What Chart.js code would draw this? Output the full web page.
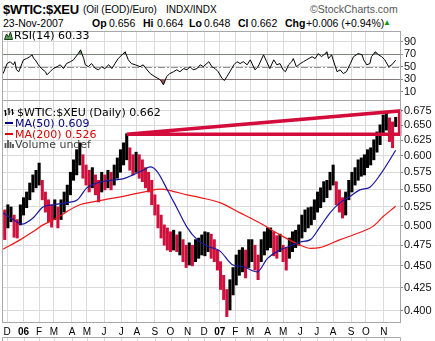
<!DOCTYPE html>
<html>
<head>
<meta charset="utf-8">
<title>$WTIC:$XEU</title>
<script src="https://cdn.jsdelivr.net/npm/chart.js@4.4.1/dist/chart.umd.min.js"></script>
<style>
  html, body { margin: 0; padding: 0; background: #fff; }
  #page { position: relative; width: 435px; height: 341px; overflow: hidden; background: #fff; }
  canvas { position: absolute; left: 0; }
  #rsiCanvas { top: 30px; }
  #priceCanvas { top: 99px; }
  .t { position: absolute; white-space: nowrap; line-height: 1; font-family: "Liberation Sans", Arial, sans-serif; color: #000; }
  .lg { position: absolute; white-space: nowrap; line-height: 1; font-family: "DejaVu Sans", sans-serif; font-size: 11px; color: #000; }
  .ic { position: absolute; }
</style>
</head>
<body>
<div id="page">
  <canvas id="rsiCanvas" width="435" height="71"></canvas>
  <canvas id="priceCanvas" width="435" height="242"></canvas>

  <div class="t" style="left:3px;top:3px;font-size:13px;font-weight:bold;letter-spacing:-0.3px">$WTIC:$XEU</div>
  <div class="t" style="left:83px;top:5px;font-size:10px">(Oil (EOD)/Euro)</div>
  <div class="t" style="left:166px;top:5px;font-size:10px">INDX/INDX</div>
  <div class="t" style="left:310px;top:4px;font-size:10.5px;color:#555">©StockCharts.com</div>

  <div class="t" style="left:3px;top:18px;font-size:10.5px">23-Nov-2007</div>
  <div class="t" style="left:92px;top:18px;font-size:10.5px;font-weight:bold">Op</div>
  <div class="t" style="left:109px;top:18px;font-size:10.5px">0.656</div>
  <div class="t" style="left:143px;top:18px;font-size:10.5px;font-weight:bold">Hi</div>
  <div class="t" style="left:157px;top:18px;font-size:10.5px">0.664</div>
  <div class="t" style="left:189px;top:18px;font-size:10.5px;font-weight:bold">Lo</div>
  <div class="t" style="left:204px;top:18px;font-size:10.5px">0.648</div>
  <div class="t" style="left:238px;top:18px;font-size:10.5px;font-weight:bold">Cl</div>
  <div class="t" style="left:251px;top:18px;font-size:10.5px">0.662</div>
  <div class="t" style="left:285px;top:18px;font-size:10.5px;font-weight:bold">Chg</div>
  <div class="t" style="left:306px;top:18px;font-size:10.5px">+0.006 (+0.94%)</div>
  <div class="t" style="left:383px;top:19px;font-size:8px;color:#00a000">▲</div>

  <!-- RSI legend -->
  <svg class="ic" style="left:4px;top:31px" width="9" height="9" viewBox="0 0 9 9">
    <polygon points="0.5,8.5 2.5,3 4.5,6 6.5,1 8.5,8.5" fill="#5aa05a" stroke="#1a3a1a" stroke-width="1"/>
  </svg>
  <div class="lg" style="left:14px;top:30px">RSI(14) 60.33</div>

  <!-- price panel legend -->
  <svg class="ic" style="left:4px;top:107px" width="10" height="10" viewBox="0 0 10 10">
    <path d="M1.5 3v6M0 4h1.5M1.5 7h1.5M5 1v7M3.5 2h1.5M5 5h1.5M8.5 2v6M7 3h1.5M8.5 6h1.5" stroke="#000" stroke-width="1.2" fill="none"/>
  </svg>
  <div class="lg" style="left:17px;top:107px">$WTIC:$XEU (Daily) 0.662</div>
  <svg class="ic" style="left:4px;top:118px" width="10" height="10"><rect x="1" y="4" width="8" height="2" fill="#000080"/></svg>
  <div class="lg" style="left:15px;top:118px;color:#000080">MA(50) 0.609</div>
  <svg class="ic" style="left:4px;top:129px" width="10" height="10"><rect x="1" y="4" width="8" height="2" fill="#e00000"/></svg>
  <div class="lg" style="left:15px;top:129px;color:#e00000">MA(200) 0.526</div>
  <svg class="ic" style="left:4px;top:139px" width="10" height="10" viewBox="0 0 10 10">
    <path d="M1.5 9V4M4 9V1M6.5 9V3M9 9V5" stroke="#555" stroke-width="1.8"/>
  </svg>
  <div class="lg" style="left:15px;top:139px;color:#404040">Volume undef</div>
</div>

<script>
// ---- month grid (session index, Dec 1 2005 = 0) ----
const monthDay = [0, 21, 41, 60, 83, 102, 124, 146, 166, 189, 209, 231, 252, 272, 292, 311, 333, 353, 375, 396, 417, 440, 459, 482];
const monthLbl = ['D', '06', 'F', 'M', 'A', 'M', 'J', 'J', 'A', 'S', 'O', 'N', 'D', '07', 'F', 'M', 'A', 'M', 'J', 'J', 'A', 'S', 'O', 'N'];

// ---- price bars, one every 4 sessions starting at session -7 ----
const barStart = -7;
const barStep = 4;
const barHi = [
  0.518, 0.521, 0.528, 0.525, 0.514, 0.508, 0.528, 0.538, 0.546, 0.559,
  0.571, 0.578, 0.589, 0.563, 0.546, 0.535, 0.528, 0.535, 0.525, 0.535,
  0.546, 0.556, 0.575, 0.594, 0.610, 0.621, 0.602, 0.586, 0.578, 0.582,
  0.571, 0.563, 0.575, 0.571, 0.578, 0.575, 0.586, 0.597, 0.610, 0.621,
  0.636, 0.613, 0.602, 0.606, 0.602, 0.594, 0.582, 0.575, 0.563, 0.542,
  0.528, 0.514, 0.501, 0.497, 0.492, 0.494, 0.488, 0.492, 0.482, 0.475,
  0.478, 0.475, 0.482, 0.484, 0.488, 0.492, 0.491, 0.489, 0.482, 0.469,
  0.455, 0.439, 0.423, 0.434, 0.448, 0.463, 0.469, 0.472, 0.469, 0.482,
  0.482, 0.475, 0.463, 0.482, 0.492, 0.497, 0.497, 0.492, 0.487, 0.489,
  0.475, 0.472, 0.484, 0.492, 0.494, 0.501, 0.514, 0.521, 0.524, 0.525,
  0.535, 0.546, 0.552, 0.561, 0.563, 0.575, 0.586, 0.561, 0.549, 0.538,
  0.546, 0.563, 0.575, 0.582, 0.594, 0.597, 0.602, 0.610, 0.613, 0.626,
  0.639, 0.651, 0.668, 0.673, 0.663, 0.656, 0.664
];
const barLo = [
  0.488, 0.482, 0.497, 0.505, 0.485, 0.484, 0.501, 0.514, 0.524, 0.535,
  0.546, 0.552, 0.556, 0.535, 0.518, 0.505, 0.498, 0.508, 0.497, 0.508,
  0.518, 0.528, 0.542, 0.563, 0.571, 0.586, 0.566, 0.556, 0.546, 0.552,
  0.542, 0.532, 0.546, 0.549, 0.552, 0.549, 0.556, 0.566, 0.575, 0.586,
  0.594, 0.578, 0.571, 0.575, 0.566, 0.561, 0.552, 0.546, 0.528, 0.514,
  0.497, 0.484, 0.475, 0.469, 0.467, 0.469, 0.467, 0.463, 0.455, 0.448,
  0.451, 0.450, 0.455, 0.459, 0.463, 0.462, 0.467, 0.459, 0.455, 0.445,
  0.423, 0.412, 0.394, 0.401, 0.417, 0.428, 0.439, 0.443, 0.436, 0.448,
  0.455, 0.445, 0.434, 0.455, 0.463, 0.469, 0.472, 0.462, 0.459, 0.467,
  0.455, 0.445, 0.459, 0.467, 0.472, 0.475, 0.484, 0.492, 0.497, 0.501,
  0.508, 0.518, 0.524, 0.532, 0.538, 0.549, 0.556, 0.528, 0.518, 0.510,
  0.514, 0.535, 0.546, 0.556, 0.563, 0.569, 0.571, 0.582, 0.586, 0.594,
  0.606, 0.618, 0.634, 0.642, 0.623, 0.613, 0.648
];

// ---- moving averages ----
const ma50Day = [-5, 8, 19, 33, 46, 59, 77, 90, 102, 115, 132, 148, 161, 174, 183, 192, 205, 217, 230, 243,
  256, 272, 289, 302, 320, 333, 349, 362, 375, 388, 400, 413, 426, 439, 451, 464, 477, 497];
const ma50Val = [0.517, 0.508, 0.502, 0.510, 0.525, 0.528, 0.531, 0.535, 0.552, 0.559, 0.563, 0.565, 0.571, 0.578, 0.583, 0.576, 0.549, 0.524, 0.498, 0.482,
  0.474, 0.468, 0.451, 0.449, 0.443, 0.459, 0.469, 0.474, 0.479, 0.482, 0.498, 0.517, 0.531, 0.540, 0.549, 0.553, 0.571, 0.609];
const ma200Day = [-5, 17, 33, 46, 64, 77, 93, 110, 128, 145, 161, 179, 196, 212, 230, 247, 272, 298, 324, 349,
  375, 388, 400, 426, 451, 468, 481, 490, 497];
const ma200Val = [0.470, 0.482, 0.492, 0.501, 0.510, 0.519, 0.528, 0.532, 0.536, 0.539, 0.543, 0.547, 0.550, 0.547, 0.542, 0.538, 0.531, 0.517, 0.503, 0.488,
  0.475, 0.471, 0.472, 0.482, 0.491, 0.499, 0.512, 0.520, 0.526];

// ---- drawn trend channel ----
const trendDay = [153, 502, 502, 153];
const trendVal = [0.635, 0.675, 0.635, 0.635];

// ---- RSI(14) ----
const rsiDay = [
  -5, 0, 4, 8, 10, 12, 15, 19, 21, 25, 29, 32, 34, 36, 40, 44, 49, 51, 55, 59,
  64, 68, 72, 76, 81, 85, 91, 94, 98, 100, 104, 108, 113, 117, 121, 125, 130, 134, 138, 142,
  147, 151, 155, 159, 164, 170, 174, 179, 183, 189, 196, 200, 204, 208, 213, 217, 221, 226, 230, 234,
  238, 243, 247, 251, 258, 262, 266, 270, 275, 278, 281, 285, 290, 294, 298, 302, 307, 311, 317, 321,
  328, 332, 336, 341, 345, 349, 353, 356, 360, 364, 366, 370, 375, 379, 383, 390, 394, 398, 402, 407,
  409, 411, 415, 417, 422, 426, 430, 434, 439, 443, 449, 454, 456, 460, 464, 466, 471, 475, 479, 483,
  488, 492, 497
];
const rsiVal = [
  39, 55, 58, 53, 58, 45, 42, 55, 61, 63, 66, 69, 63, 61, 53, 47, 42, 37, 42, 47,
  50, 53, 47, 55, 58, 61, 71, 77, 63, 53, 50, 55, 47, 45, 50, 47, 53, 47, 55, 63,
  69, 74, 61, 55, 53, 50, 53, 45, 39, 34, 29, 21, 34, 39, 42, 45, 42, 47, 45, 50,
  45, 47, 53, 50, 58, 50, 47, 42, 31, 28, 34, 42, 53, 58, 55, 58, 53, 61, 45, 50,
  69, 58, 47, 61, 53, 55, 45, 42, 53, 58, 63, 50, 55, 58, 61, 66, 63, 71, 66, 71,
  74, 63, 69, 61, 42, 45, 39, 42, 55, 66, 71, 69, 61, 53, 55, 66, 74, 69, 66, 61,
  50, 53, 60.33
];

// ---- axis ticks ----
const priceTicks = [0.400, 0.425, 0.450, 0.475, 0.500, 0.525, 0.550, 0.575, 0.600, 0.625, 0.650, 0.675];
const rsiTicks = [10, 30, 50, 70, 90];
const rsiBands = [30, 70];
const rsiMid = 50;

// ---- look ----
const GRID = '#dadada';
const FRAME = '#a8a8a8';
const UP = '#000000';
const DOWN = '#d0103c';
const AXIS_FONT = { family: '"Liberation Sans", Arial, sans-serif', size: 11 };

const X_MIN = -6.5, X_MAX = 502.5;

const pts = (days, vals) => days.map((d, i) => ({ x: d, y: vals[i] }));

// labels may run past the plot edge; keep the plot box where the layout puts it
function noPad(s) {
  s.paddingTop = 0; s.paddingBottom = 0; s.paddingLeft = 0; s.paddingRight = 0;
}

function xAxis(showLabels) {
  return {
    type: 'linear',
    min: X_MIN,
    max: X_MAX,
    offset: false,
    grid: { color: GRID, drawTicks: false, offset: false },
    border: { display: false },
    afterBuildTicks: s => { s.ticks = monthDay.map(v => ({ value: v })); },
    afterFit: s => { s.height = showLabels ? 19 : 0; noPad(s); },
    ticks: {
      display: showLabels,
      autoSkip: false,
      maxRotation: 0,
      padding: 4,
      color: '#000',
      callback: v => monthLbl[monthDay.indexOf(v)],
      font: c => ({
        family: AXIS_FONT.family,
        size: 10,
        weight: c.tick && /^\d/.test(monthLbl[monthDay.indexOf(c.tick.value)]) ? 'bold' : 'normal'
      })
    }
  };
}

function yAxis(extra) {
  return Object.assign({
    position: 'right',
    grid: { color: GRID, tickLength: 3, tickColor: '#888' },
    border: { display: false },
    afterFit: s => { s.width = 35; noPad(s); }
  }, extra);
}

// box round each panel
const panelFrame = {
  id: 'panelFrame',
  afterDraw(chart) {
    const { ctx, chartArea: a } = chart;
    ctx.save();
    ctx.strokeStyle = FRAME;
    ctx.lineWidth = 1;
    ctx.strokeRect(a.left + 0.5, a.top + 0.5, a.right - a.left, a.bottom - a.top);
    ctx.restore();
  }
};

// overbought / oversold and centre lines of the RSI
const rsiLines = {
  id: 'rsiLines',
  beforeDatasetsDraw(chart) {
    const { ctx, chartArea: a, scales: { y } } = chart;
    ctx.save();
    ctx.lineWidth = 1;
    ctx.strokeStyle = '#808080';
    rsiBands.forEach(v => {
      const py = Math.round(y.getPixelForValue(v)) + 0.5;
      ctx.beginPath(); ctx.moveTo(a.left, py); ctx.lineTo(a.right, py); ctx.stroke();
    });
    ctx.strokeStyle = '#909090';
    ctx.setLineDash([7, 2, 2, 2]);
    const pm = Math.round(y.getPixelForValue(rsiMid)) + 0.5;
    ctx.beginPath(); ctx.moveTo(a.left, pm); ctx.lineTo(a.right, pm); ctx.stroke();
    ctx.restore();
  }
};

// top edge of the next (cut off) panel under the date labels
const nextPanelEdge = {
  id: 'nextPanelEdge',
  afterDraw(chart) {
    const { ctx, chartArea: a, scales: { x } } = chart;
    const top = chart.height - 4 + 0.5;
    ctx.save();
    ctx.lineWidth = 1;
    ctx.strokeStyle = GRID;
    monthDay.forEach(d => {
      const px = Math.round(x.getPixelForValue(d)) + 0.5;
      ctx.beginPath(); ctx.moveTo(px, top); ctx.lineTo(px, chart.height); ctx.stroke();
    });
    ctx.strokeStyle = FRAME;
    ctx.beginPath();
    ctx.moveTo(a.left + 0.5, chart.height);
    ctx.lineTo(a.left + 0.5, top);
    ctx.lineTo(a.right + 0.5, top);
    ctx.lineTo(a.right + 0.5, chart.height);
    ctx.stroke();
    ctx.restore();
  }
};

const common = {
  responsive: false,
  animation: false,
  events: [],
  plugins: { legend: { display: false }, tooltip: { enabled: false } }
};

// ---- RSI panel ----
const rsiPts = pts(rsiDay, rsiVal);
new Chart(document.getElementById('rsiCanvas'), {
  type: 'line',
  data: {
    datasets: [
      { data: rsiPts, borderColor: '#000', borderWidth: 1, pointRadius: 0, tension: 0, order: 0 },
      { data: rsiPts, borderWidth: 0, pointRadius: 0, order: 1,
        fill: { target: { value: 70 }, above: '#5e9c5e', below: 'rgba(0,0,0,0)' } },
      { data: rsiPts, borderWidth: 0, pointRadius: 0, order: 2,
        fill: { target: { value: 30 }, above: 'rgba(0,0,0,0)', below: '#a85050' } }
    ]
  },
  options: {
    ...common,
    layout: { padding: { left: 2, right: 0, top: 1, bottom: 1 } },
    scales: {
      x: xAxis(false),
      y: yAxis({
        min: -3.3,
        max: 107.1,
        afterBuildTicks: s => { s.ticks = rsiTicks.map(v => ({ value: v })); },
        ticks: { autoSkip: false, padding: 1, color: '#111', font: AXIS_FONT, callback: v => String(v) }
      })
    }
  },
  plugins: [rsiLines, panelFrame]
});

// ---- price panel ----
const barPts = barHi.map((h, k) => ({ x: barStart + k * barStep, y: [barLo[k], h] }));
const barColors = barHi.map((h, k) => {
  if (k === 0) return UP;
  const mid = (h + barLo[k]) / 2;
  const prev = (barHi[k - 1] + barLo[k - 1]) / 2;
  return mid >= prev ? UP : DOWN;
});

new Chart(document.getElementById('priceCanvas'), {
  type: 'bar',
  data: {
    datasets: [
      { type: 'line', data: pts(trendDay, trendVal), borderColor: '#d40c3c', borderWidth: 3.5,
        pointRadius: 0, tension: 0, borderJoinStyle: 'miter', clip: 4, order: 0 },
      { type: 'line', data: pts(ma50Day, ma50Val), borderColor: '#1818a0', borderWidth: 1.2,
        pointRadius: 0, cubicInterpolationMode: 'monotone', order: 1 },
      { type: 'line', data: pts(ma200Day, ma200Val), borderColor: '#f01818', borderWidth: 1.2,
        pointRadius: 0, cubicInterpolationMode: 'monotone', order: 2 },
      { data: barPts, backgroundColor: barColors, barThickness: 2.4, grouped: false, order: 3 }
    ]
  },
  options: {
    ...common,
    layout: { padding: { left: 2, right: 0, top: 1, bottom: 0 } },
    scales: {
      x: xAxis(true),
      y: yAxis({
        type: 'logarithmic',
        min: 0.3885,
        max: 0.6947,
        bounds: 'data',
        afterBuildTicks: s => { s.ticks = priceTicks.map(v => ({ value: v })); },
        ticks: { autoSkip: false, padding: 1, color: '#111', font: AXIS_FONT, callback: v => Number(v).toFixed(3) }
      })
    }
  },
  plugins: [panelFrame, nextPanelEdge]
});
</script>
</body>
</html>
